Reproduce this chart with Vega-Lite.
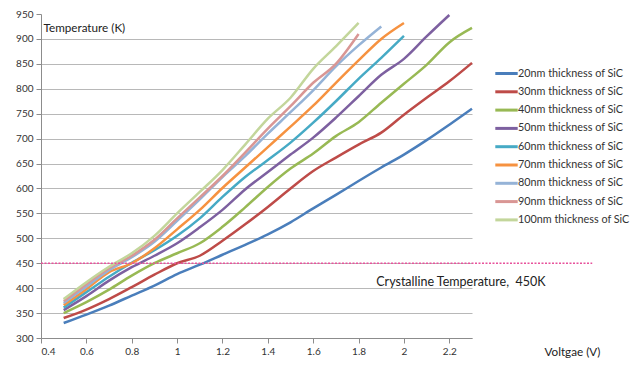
{
  "$schema": "https://vega.github.io/schema/vega-lite/v6.json",
  "width": 431,
  "height": 324,
  "autosize": "none",
  "padding": {"left": 41, "top": 14, "right": 168, "bottom": 29},
  "background": "#ffffff",
  "config": {
    "font": "Lato",
    "view": {"stroke": null},
    "axis": {"labelFont": "Lato", "labelFontSize": 10, "labelColor": "#333333", "domainColor": "#8c8c8c", "tickColor": "#8c8c8c", "gridColor": "#b8b8b8", "titleFont": "Lato", "titleFontWeight": "normal", "titleColor": "#222222", "titleFontSize": 11.7, "labelOverlap": false}
  },
  "datasets": {
    "temps": [
      {"series": "20nm thickness of SiC", "voltage": 0.5, "temp": 330},
      {"series": "20nm thickness of SiC", "voltage": 0.6, "temp": 347},
      {"series": "20nm thickness of SiC", "voltage": 0.7, "temp": 365},
      {"series": "20nm thickness of SiC", "voltage": 0.8, "temp": 385},
      {"series": "20nm thickness of SiC", "voltage": 0.9, "temp": 405},
      {"series": "20nm thickness of SiC", "voltage": 1.0, "temp": 428},
      {"series": "20nm thickness of SiC", "voltage": 1.1, "temp": 447},
      {"series": "20nm thickness of SiC", "voltage": 1.2, "temp": 467},
      {"series": "20nm thickness of SiC", "voltage": 1.3, "temp": 487},
      {"series": "20nm thickness of SiC", "voltage": 1.4, "temp": 508},
      {"series": "20nm thickness of SiC", "voltage": 1.5, "temp": 532},
      {"series": "20nm thickness of SiC", "voltage": 1.6, "temp": 560},
      {"series": "20nm thickness of SiC", "voltage": 1.7, "temp": 587},
      {"series": "20nm thickness of SiC", "voltage": 1.8, "temp": 615},
      {"series": "20nm thickness of SiC", "voltage": 1.9, "temp": 642},
      {"series": "20nm thickness of SiC", "voltage": 2.0, "temp": 668},
      {"series": "20nm thickness of SiC", "voltage": 2.1, "temp": 697},
      {"series": "20nm thickness of SiC", "voltage": 2.2, "temp": 728},
      {"series": "20nm thickness of SiC", "voltage": 2.3, "temp": 760},
      {"series": "30nm thickness of SiC", "voltage": 0.5, "temp": 340},
      {"series": "30nm thickness of SiC", "voltage": 0.6, "temp": 357},
      {"series": "30nm thickness of SiC", "voltage": 0.7, "temp": 378},
      {"series": "30nm thickness of SiC", "voltage": 0.8, "temp": 402},
      {"series": "30nm thickness of SiC", "voltage": 0.9, "temp": 427},
      {"series": "30nm thickness of SiC", "voltage": 1.0, "temp": 450},
      {"series": "30nm thickness of SiC", "voltage": 1.1, "temp": 465},
      {"series": "30nm thickness of SiC", "voltage": 1.2, "temp": 495},
      {"series": "30nm thickness of SiC", "voltage": 1.3, "temp": 528},
      {"series": "30nm thickness of SiC", "voltage": 1.4, "temp": 563},
      {"series": "30nm thickness of SiC", "voltage": 1.5, "temp": 600},
      {"series": "30nm thickness of SiC", "voltage": 1.6, "temp": 635},
      {"series": "30nm thickness of SiC", "voltage": 1.7, "temp": 662},
      {"series": "30nm thickness of SiC", "voltage": 1.8, "temp": 688},
      {"series": "30nm thickness of SiC", "voltage": 1.9, "temp": 712},
      {"series": "30nm thickness of SiC", "voltage": 2.0, "temp": 748},
      {"series": "30nm thickness of SiC", "voltage": 2.1, "temp": 782},
      {"series": "30nm thickness of SiC", "voltage": 2.2, "temp": 815},
      {"series": "30nm thickness of SiC", "voltage": 2.3, "temp": 852},
      {"series": "40nm thickness of SiC", "voltage": 0.5, "temp": 350},
      {"series": "40nm thickness of SiC", "voltage": 0.6, "temp": 372},
      {"series": "40nm thickness of SiC", "voltage": 0.7, "temp": 397},
      {"series": "40nm thickness of SiC", "voltage": 0.8, "temp": 425},
      {"series": "40nm thickness of SiC", "voltage": 0.9, "temp": 450},
      {"series": "40nm thickness of SiC", "voltage": 1.0, "temp": 470},
      {"series": "40nm thickness of SiC", "voltage": 1.1, "temp": 490},
      {"series": "40nm thickness of SiC", "voltage": 1.2, "temp": 523},
      {"series": "40nm thickness of SiC", "voltage": 1.3, "temp": 562},
      {"series": "40nm thickness of SiC", "voltage": 1.4, "temp": 603},
      {"series": "40nm thickness of SiC", "voltage": 1.5, "temp": 640},
      {"series": "40nm thickness of SiC", "voltage": 1.6, "temp": 670},
      {"series": "40nm thickness of SiC", "voltage": 1.7, "temp": 705},
      {"series": "40nm thickness of SiC", "voltage": 1.8, "temp": 733},
      {"series": "40nm thickness of SiC", "voltage": 1.9, "temp": 772},
      {"series": "40nm thickness of SiC", "voltage": 2.0, "temp": 810},
      {"series": "40nm thickness of SiC", "voltage": 2.1, "temp": 848},
      {"series": "40nm thickness of SiC", "voltage": 2.2, "temp": 893},
      {"series": "40nm thickness of SiC", "voltage": 2.3, "temp": 922},
      {"series": "50nm thickness of SiC", "voltage": 0.5, "temp": 356},
      {"series": "50nm thickness of SiC", "voltage": 0.6, "temp": 384},
      {"series": "50nm thickness of SiC", "voltage": 0.7, "temp": 415},
      {"series": "50nm thickness of SiC", "voltage": 0.8, "temp": 442},
      {"series": "50nm thickness of SiC", "voltage": 0.9, "temp": 465},
      {"series": "50nm thickness of SiC", "voltage": 1.0, "temp": 490},
      {"series": "50nm thickness of SiC", "voltage": 1.1, "temp": 522},
      {"series": "50nm thickness of SiC", "voltage": 1.2, "temp": 557},
      {"series": "50nm thickness of SiC", "voltage": 1.3, "temp": 598},
      {"series": "50nm thickness of SiC", "voltage": 1.4, "temp": 633},
      {"series": "50nm thickness of SiC", "voltage": 1.5, "temp": 668},
      {"series": "50nm thickness of SiC", "voltage": 1.6, "temp": 702},
      {"series": "50nm thickness of SiC", "voltage": 1.7, "temp": 742},
      {"series": "50nm thickness of SiC", "voltage": 1.8, "temp": 785},
      {"series": "50nm thickness of SiC", "voltage": 1.9, "temp": 828},
      {"series": "50nm thickness of SiC", "voltage": 2.0, "temp": 860},
      {"series": "50nm thickness of SiC", "voltage": 2.1, "temp": 905},
      {"series": "50nm thickness of SiC", "voltage": 2.2, "temp": 948},
      {"series": "60nm thickness of SiC", "voltage": 0.5, "temp": 361},
      {"series": "60nm thickness of SiC", "voltage": 0.6, "temp": 392},
      {"series": "60nm thickness of SiC", "voltage": 0.7, "temp": 423},
      {"series": "60nm thickness of SiC", "voltage": 0.8, "temp": 451},
      {"series": "60nm thickness of SiC", "voltage": 0.9, "temp": 476},
      {"series": "60nm thickness of SiC", "voltage": 1.0, "temp": 505},
      {"series": "60nm thickness of SiC", "voltage": 1.1, "temp": 540},
      {"series": "60nm thickness of SiC", "voltage": 1.2, "temp": 583},
      {"series": "60nm thickness of SiC", "voltage": 1.3, "temp": 623},
      {"series": "60nm thickness of SiC", "voltage": 1.4, "temp": 657},
      {"series": "60nm thickness of SiC", "voltage": 1.5, "temp": 692},
      {"series": "60nm thickness of SiC", "voltage": 1.6, "temp": 732},
      {"series": "60nm thickness of SiC", "voltage": 1.7, "temp": 775},
      {"series": "60nm thickness of SiC", "voltage": 1.8, "temp": 820},
      {"series": "60nm thickness of SiC", "voltage": 1.9, "temp": 862},
      {"series": "60nm thickness of SiC", "voltage": 2.0, "temp": 906},
      {"series": "70nm thickness of SiC", "voltage": 0.5, "temp": 366},
      {"series": "70nm thickness of SiC", "voltage": 0.6, "temp": 398},
      {"series": "70nm thickness of SiC", "voltage": 0.7, "temp": 432},
      {"series": "70nm thickness of SiC", "voltage": 0.8, "temp": 450},
      {"series": "70nm thickness of SiC", "voltage": 0.9, "temp": 480},
      {"series": "70nm thickness of SiC", "voltage": 1.0, "temp": 518},
      {"series": "70nm thickness of SiC", "voltage": 1.1, "temp": 557},
      {"series": "70nm thickness of SiC", "voltage": 1.2, "temp": 601},
      {"series": "70nm thickness of SiC", "voltage": 1.3, "temp": 642},
      {"series": "70nm thickness of SiC", "voltage": 1.4, "temp": 683},
      {"series": "70nm thickness of SiC", "voltage": 1.5, "temp": 724},
      {"series": "70nm thickness of SiC", "voltage": 1.6, "temp": 766},
      {"series": "70nm thickness of SiC", "voltage": 1.7, "temp": 812},
      {"series": "70nm thickness of SiC", "voltage": 1.8, "temp": 857},
      {"series": "70nm thickness of SiC", "voltage": 1.9, "temp": 900},
      {"series": "70nm thickness of SiC", "voltage": 2.0, "temp": 932},
      {"series": "80nm thickness of SiC", "voltage": 0.5, "temp": 370},
      {"series": "80nm thickness of SiC", "voltage": 0.6, "temp": 403},
      {"series": "80nm thickness of SiC", "voltage": 0.7, "temp": 436},
      {"series": "80nm thickness of SiC", "voltage": 0.8, "temp": 462},
      {"series": "80nm thickness of SiC", "voltage": 0.9, "temp": 493},
      {"series": "80nm thickness of SiC", "voltage": 1.0, "temp": 535},
      {"series": "80nm thickness of SiC", "voltage": 1.1, "temp": 578},
      {"series": "80nm thickness of SiC", "voltage": 1.2, "temp": 623},
      {"series": "80nm thickness of SiC", "voltage": 1.3, "temp": 665},
      {"series": "80nm thickness of SiC", "voltage": 1.4, "temp": 710},
      {"series": "80nm thickness of SiC", "voltage": 1.5, "temp": 753},
      {"series": "80nm thickness of SiC", "voltage": 1.6, "temp": 797},
      {"series": "80nm thickness of SiC", "voltage": 1.7, "temp": 845},
      {"series": "80nm thickness of SiC", "voltage": 1.8, "temp": 887},
      {"series": "80nm thickness of SiC", "voltage": 1.9, "temp": 925},
      {"series": "90nm thickness of SiC", "voltage": 0.5, "temp": 374},
      {"series": "90nm thickness of SiC", "voltage": 0.6, "temp": 408},
      {"series": "90nm thickness of SiC", "voltage": 0.7, "temp": 440},
      {"series": "90nm thickness of SiC", "voltage": 0.8, "temp": 465},
      {"series": "90nm thickness of SiC", "voltage": 0.9, "temp": 497},
      {"series": "90nm thickness of SiC", "voltage": 1.0, "temp": 540},
      {"series": "90nm thickness of SiC", "voltage": 1.1, "temp": 582},
      {"series": "90nm thickness of SiC", "voltage": 1.2, "temp": 625},
      {"series": "90nm thickness of SiC", "voltage": 1.3, "temp": 672},
      {"series": "90nm thickness of SiC", "voltage": 1.4, "temp": 720},
      {"series": "90nm thickness of SiC", "voltage": 1.5, "temp": 765},
      {"series": "90nm thickness of SiC", "voltage": 1.6, "temp": 812},
      {"series": "90nm thickness of SiC", "voltage": 1.7, "temp": 850},
      {"series": "90nm thickness of SiC", "voltage": 1.8, "temp": 910},
      {"series": "100nm thickness of SiC", "voltage": 0.5, "temp": 378},
      {"series": "100nm thickness of SiC", "voltage": 0.6, "temp": 412},
      {"series": "100nm thickness of SiC", "voltage": 0.7, "temp": 443},
      {"series": "100nm thickness of SiC", "voltage": 0.8, "temp": 470},
      {"series": "100nm thickness of SiC", "voltage": 0.9, "temp": 505},
      {"series": "100nm thickness of SiC", "voltage": 1.0, "temp": 550},
      {"series": "100nm thickness of SiC", "voltage": 1.1, "temp": 593},
      {"series": "100nm thickness of SiC", "voltage": 1.2, "temp": 637},
      {"series": "100nm thickness of SiC", "voltage": 1.3, "temp": 688},
      {"series": "100nm thickness of SiC", "voltage": 1.4, "temp": 740},
      {"series": "100nm thickness of SiC", "voltage": 1.5, "temp": 782},
      {"series": "100nm thickness of SiC", "voltage": 1.6, "temp": 840},
      {"series": "100nm thickness of SiC", "voltage": 1.7, "temp": 885},
      {"series": "100nm thickness of SiC", "voltage": 1.8, "temp": 932}
    ],
    "threshold": [{"voltage": 0.4, "voltage_end": 2.83, "temp": 450}],
    "note": [{"voltage": 1.878, "temp": 413, "label": "Crystalline Temperature,\u00a0\u00a0450K"}]
  },
  "encoding": {
    "x": {
      "field": "voltage", "type": "quantitative",
      "scale": {"domain": [0.4, 2.3], "nice": false, "zero": false},
      "axis": {
        "values": [0.4, 0.6, 0.8, 1.0, 1.2, 1.4, 1.6, 1.8, 2.0, 2.2],
        "format": "~g",
        "grid": false, "tickSize": 5, "labelPadding": 3,
        "title": "Voltgae (V)", "titleAngle": 0, "titleAlign": "left", "titleBaseline": "middle",
        "titleX": 503, "titleY": 13
      }
    },
    "y": {
      "field": "temp", "type": "quantitative",
      "scale": {"domain": [300, 950], "nice": false, "zero": false},
      "axis": {
        "values": [300, 350, 400, 450, 500, 550, 600, 650, 700, 750, 800, 850, 900, 950],
        "tickCount": 14,
        "grid": true,
        "gridColor": {"condition": {"test": "datum.value == 950", "value": "transparent"}, "value": "#b8b8b8"},
        "tickSize": 5, "labelPadding": 3,
        "title": "Temperature (K)", "titleAngle": 0, "titleAlign": "left", "titleBaseline": "middle",
        "titleX": 2, "titleY": 13
      }
    }
  },
  "layer": [
    {
      "data": {"name": "temps"},
      "mark": {"type": "line", "strokeWidth": 2.5, "interpolate": "monotone"},
      "encoding": {
        "color": {
          "field": "series", "type": "nominal",
          "scale": {
            "domain": ["20nm thickness of SiC", "30nm thickness of SiC", "40nm thickness of SiC", "50nm thickness of SiC", "60nm thickness of SiC", "70nm thickness of SiC", "80nm thickness of SiC", "90nm thickness of SiC", "100nm thickness of SiC"],
            "range": ["#4a7ebb", "#be4b48", "#98b954", "#7d60a0", "#46aac5", "#f69240", "#95b3d7", "#d99694", "#c3d69b"]
          },
          "legend": {
            "title": null, "orient": "none", "legendX": 456, "legendY": 50,
            "symbolType": "M-1.4,0H1.4", "symbolSize": 256, "symbolStrokeWidth": 3,
            "labelFontSize": 10.8, "labelFont": "Lato", "labelColor": "#333333", "labelOffset": 2,
            "rowPadding": 2.3, "padding": 0
          }
        }
      }
    },
    {
      "data": {"name": "threshold"},
      "mark": {"type": "rule", "color": "#e8529b", "strokeWidth": 1.5, "strokeDash": [2, 1.5], "clip": false},
      "encoding": {
        "x2": {"field": "voltage_end"}
      }
    },
    {
      "data": {"name": "note"},
      "mark": {"type": "text", "align": "left", "baseline": "middle", "fontSize": 12.5, "font": "Lato", "color": "#222222"},
      "encoding": {
        "text": {"field": "label"}
      }
    }
  ]
}
